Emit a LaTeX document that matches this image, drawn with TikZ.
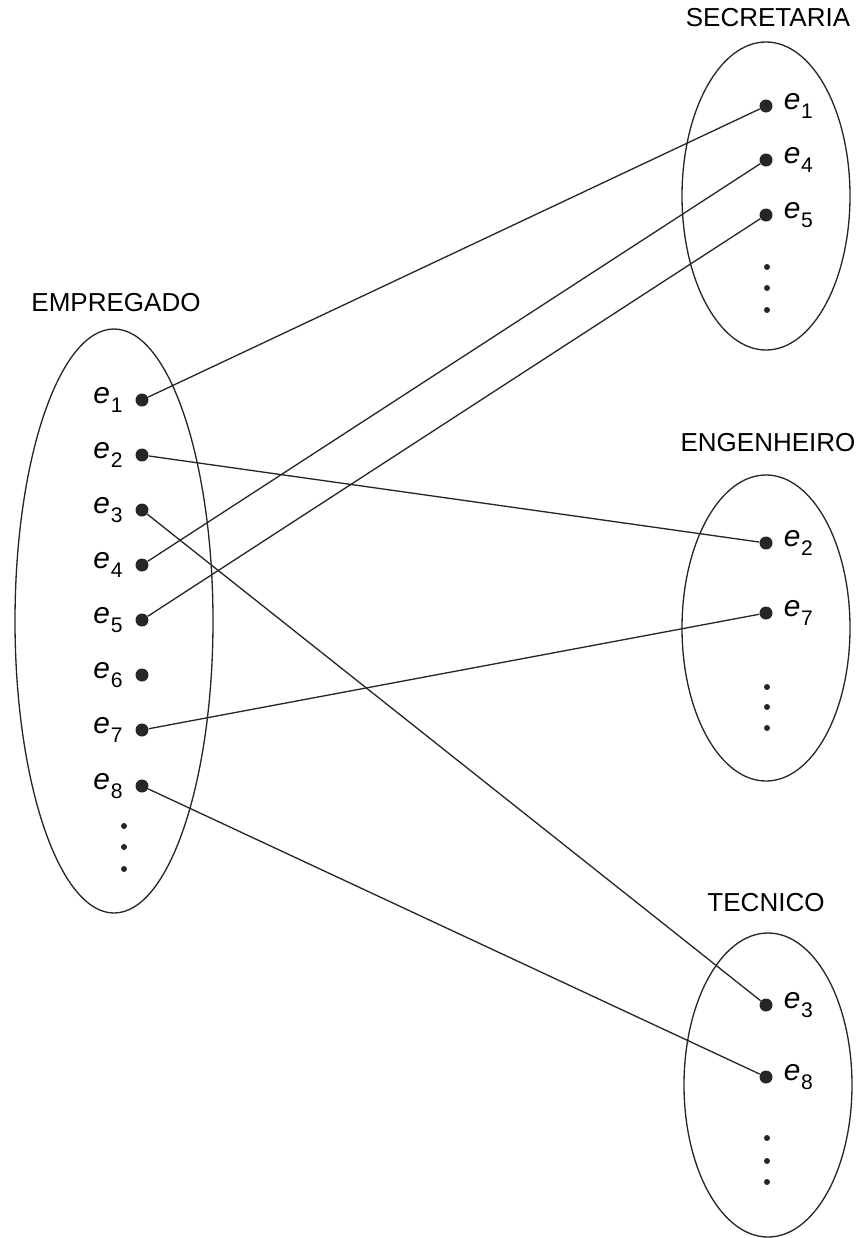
\documentclass[tikz,border=0pt]{standalone}
\usepackage{fontspec}
\setmainfont{Liberation Sans}
\usetikzlibrary{positioning}

% element label: italic e with a lowered index
\newcommand{\elt}[1]{{\fontsize{17}{17}\selectfont\itshape e}\kern0.5pt\raisebox{-0.95ex}{\fontsize{12}{12}\selectfont #1}}

\tikzset{
  elem/.style={circle, fill=black!85, inner sep=0pt, minimum size=0.26cm},
  lab/.style={inner sep=0pt},
  setname/.style={font=\fontsize{14.8}{16}\selectfont},
  link/.style={line width=0.75pt, black!85},
  rim/.style={line width=0.75pt, black!85}
}

\begin{document}
\begin{tikzpicture}[x=0.02cm, y=-0.02cm]
  \useasboundingbox (0,0) rectangle (864,1238);
  % Set outlines
  \draw[rim] (114,621) ellipse (99 and 292);
  \draw[rim] (766,196) ellipse (84 and 154);
  \draw[rim] (766,628) ellipse (84 and 153);
  \draw[rim] (768,1085) ellipse (84 and 152);
  % Set names
  \node[setname] (hEmp) at (116,303) {EMPREGADO};
  \node[setname] (hSec) at (768,18) {SECRETARIA};
  \node[setname] (hEng) at (768,443) {ENGENHEIRO};
  \node[setname] (hTec) at (766,903) {TECNICO};
  % EMPREGADO elements
  \node[elem] (emp1) at (142,400) {};
  \node[elem] (emp2) at (142,455) {};
  \node[elem] (emp3) at (142,510) {};
  \node[elem] (emp4) at (142,565) {};
  \node[elem] (emp5) at (142,620) {};
  \node[elem] (emp6) at (142,675) {};
  \node[elem] (emp7) at (142,730) {};
  \node[elem] (emp8) at (142,786) {};
  \foreach \i in {1,...,8}
    \node[lab, left=7pt of emp\i] (empl\i) {\elt{\i}};
  \foreach \y in {826,847,869}
    \fill[black!85] (124,\y) circle (3);
  % SECRETARIA elements
  \node[elem] (sec1) at (766,106) {};
  \node[elem] (sec4) at (766,160) {};
  \node[elem] (sec5) at (766,215) {};
  \node[lab, right=6pt of sec1] (secl1) {\elt{1}};
  \node[lab, right=6pt of sec4] (secl4) {\elt{4}};
  \node[lab, right=6pt of sec5] (secl5) {\elt{5}};
  \foreach \y in {267,288,310}
    \fill[black!85] (767,\y) circle (3);
  % ENGENHEIRO elements
  \node[elem] (eng2) at (766,543) {};
  \node[elem] (eng7) at (766,613) {};
  \node[lab, right=6pt of eng2] (engl2) {\elt{2}};
  \node[lab, right=6pt of eng7] (engl7) {\elt{7}};
  \foreach \y in {687,707,728}
    \fill[black!85] (767,\y) circle (3);
  % TECNICO elements
  \node[elem] (tec3) at (766,1005) {};
  \node[elem] (tec8) at (766,1077) {};
  \node[lab, right=6pt of tec3] (tecl3) {\elt{3}};
  \node[lab, right=6pt of tec8] (tecl8) {\elt{8}};
  \foreach \y in {1138,1161,1182}
    \fill[black!85] (767,\y) circle (3);
  % Mapping lines
  \draw[link] (emp1) -- (sec1);
  \draw[link] (emp4) -- (sec4);
  \draw[link] (emp5) -- (sec5);
  \draw[link] (emp2) -- (eng2);
  \draw[link] (emp7) -- (eng7);
  \draw[link] (emp3) -- (tec3);
  \draw[link] (emp8) -- (tec8);
\end{tikzpicture}
\end{document}
